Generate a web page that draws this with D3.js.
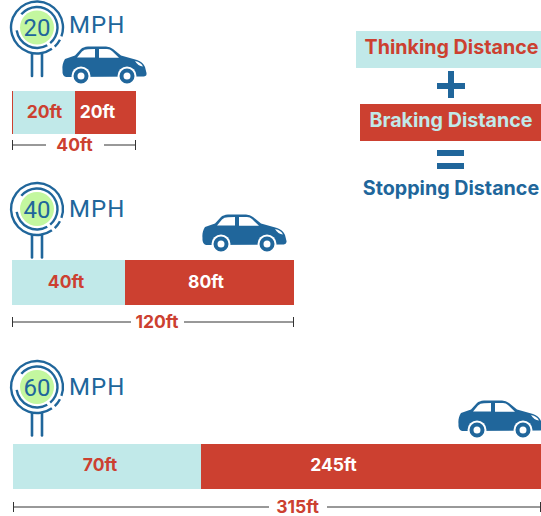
<!DOCTYPE html>
<html><head><meta charset="utf-8">
<script src="https://cdn.jsdelivr.net/npm/d3@7"></script>
<style>html,body{margin:0;padding:0;background:#fff}svg{display:block}text{font-family:Inter,sans-serif;font-weight:700}</style>
</head><body><svg id="c" width="541" height="516"></svg>
<script>
const speeds=[20,40,60];
const thinking=[20,40,70];
const braking=[20,80,245];
const totals=thinking.map((t,i)=>t+braking[i]);
const unitLabel="MPH";
const legendLabels=["Thinking Distance","Braking Distance","Stopping Distance"];
const colThink="#c1e9e9",colBrake="#cc4030",colBlue="#20669b",colGreen="#c3f79f";

// layout per row
const rowLeft=[12,12,13],rowSplit=[75,125,201],rowRight=[136,294,541];
const rowBarTop=[91,260,444],rowBarH=[43,45,45];
const signY=[27.5,209,387];
const mphY=[33,216.5,394.5];
const carX=[62,202,458],carY=[46,214,400];
const dimY=[145,322,507];
const dimGap=[[46,104],[131,184],[269,327]];
const thinkLabelX=[44.5,66,100],brakeLabelX=[97.5,206,333.5];
const labelY=[117.5,288,471];

const svg=d3.select("#c");
const carBody="M0.5,24 C0,20 1,16 3,13 L13,9.5 L19,3 Q21,1 26,0.5 L44,0.5 Q48,0.5 51,3 L59,9.5 L75,14 Q81,16 83,21 L84.5,27 Q85,30 82,30.5 L4,31 Q0,30 0.5,24 Z";
const winA="M15,11.5 L20,5.5 Q22,3.2 26,3.2 L33,3 L33,11.5 Z";
const winB="M37,3 L45,3 Q48,3 50,5 L57,11.8 L37,11.8 Z";
const lamp="M73,15 Q79,16 81,20.5 Q76,20 73,15 Z";

function drawCar(g){
  g.append("path").attr("d",carBody).attr("fill",colBlue);
  g.append("path").attr("d",winA).attr("fill","#fff");
  g.append("path").attr("d",winB).attr("fill","#fff");
  g.append("path").attr("d",lamp).attr("fill","#fff");
  [19,65].forEach(cx=>{
    g.append("circle").attr("cx",cx).attr("cy",30).attr("r",9.5).attr("fill","#fff");
    g.append("circle").attr("cx",cx).attr("cy",30).attr("r",5.5).attr("fill","#fff").attr("stroke",colBlue).attr("stroke-width",4);
  });
}
const arc=d3.arc();
function drawSign(g,s,i){
  g.append("circle").attr("r",17).attr("fill",colGreen);
  const ring=(r,a0,a1)=>g.append("path")
    .attr("d",arc({innerRadius:r-1.2,outerRadius:r+1.2,startAngle:a0,endAngle:a1}))
    .attr("fill",colBlue);
  const deg=Math.PI/180;
  ring(26,145*deg,(360+110)*deg);
  ring(26,118*deg,137*deg);
  ring(20.5,-50*deg,140*deg);
  ring(20.5,150*deg,262*deg);
  [-5,5].forEach(dx=>g.append("line").attr("x1",dx).attr("x2",dx).attr("y1",26).attr("y2",48.5)
     .attr("stroke",colBlue).attr("stroke-width",2.6).attr("stroke-linecap","round"));
  g.append("text").attr("text-anchor","middle").attr("y",8.5).attr("font-size",24)
    .style("font-weight",400).style("font-family","Roboto,sans-serif").attr("fill",colBlue).text(s);
  g.append("text").attr("x",32).attr("y",mphY[i]-signY[i]).attr("font-size",24).attr("letter-spacing",1.1)
    .style("font-weight",400).style("font-family","Roboto,sans-serif").attr("fill",colBlue).text(unitLabel);
}

speeds.forEach((s,i)=>{
  const x=d3.scaleLinear().domain([0,thinking[i],totals[i]]).range([rowLeft[i],rowSplit[i],rowRight[i]]);
  const y=rowBarTop[i],h=rowBarH[i];
  svg.append("rect").attr("x",x(0)).attr("y",y).attr("width",x(thinking[i])-x(0)).attr("height",h).attr("fill",colThink);
  svg.append("rect").attr("x",x(thinking[i])).attr("y",y).attr("width",x(totals[i])-x(thinking[i])).attr("height",h).attr("fill",colBrake);
  if(i===0) svg.append("rect").attr("x",x(0)).attr("y",y).attr("width",1).attr("height",h).attr("fill",colBrake);
  svg.append("text").attr("x",thinkLabelX[i]).attr("y",labelY[i]).attr("text-anchor","middle").attr("font-size",17.5).attr("fill",colBrake).text(thinking[i]+"ft");
  svg.append("text").attr("x",brakeLabelX[i]).attr("y",labelY[i]).attr("text-anchor","middle").attr("font-size",17.5).attr("fill","#fff").text(braking[i]+"ft");
  // dimension
  const d=dimY[i];
  const ln=(a,b,c,e)=>svg.append("line").attr("x1",a).attr("x2",b).attr("y1",c).attr("y2",e).attr("stroke","#333").attr("stroke-width",1);
  ln(x(0)+.5,dimGap[i][0],d,d);ln(dimGap[i][1],x(totals[i])-.5,d,d);
  ln(x(0)+.5,x(0)+.5,d-5,d+5);
  ln(x(totals[i])-.5,x(totals[i])-.5,d-5,d+5);
  svg.append("text").attr("x",(dimGap[i][0]+dimGap[i][1])/2-.5).attr("y",d+6).attr("text-anchor","middle").attr("font-size",17.5).attr("fill",colBrake).text(totals[i]+"ft");
  drawCar(svg.append("g").attr("transform",`translate(${carX[i]},${carY[i]})`));
  drawSign(svg.append("g").attr("transform",`translate(37,${signY[i]})`),s,i);
});

// legend
svg.append("rect").attr("x",356).attr("y",31).attr("width",185).attr("height",37).attr("fill",colThink);
svg.append("rect").attr("x",360).attr("y",104).attr("width",181).attr("height",37).attr("fill",colBrake);
const leg=[[451.5,53.5,colBrake],[451,127,colThink],[451,195,colBlue]];
legendLabels.forEach((t,i)=>svg.append("text").attr("x",leg[i][0]).attr("y",leg[i][1]).attr("text-anchor","middle").attr("font-size",19.7).attr("fill",leg[i][2]).text(t));
[[437,83,28,6],[448,71,6,27],[437,150,27,6],[437,163,27,6]].forEach(r=>svg.append("rect").attr("x",r[0]).attr("y",r[1]).attr("width",r[2]).attr("height",r[3]).attr("fill",colBlue));
</script></body></html>
